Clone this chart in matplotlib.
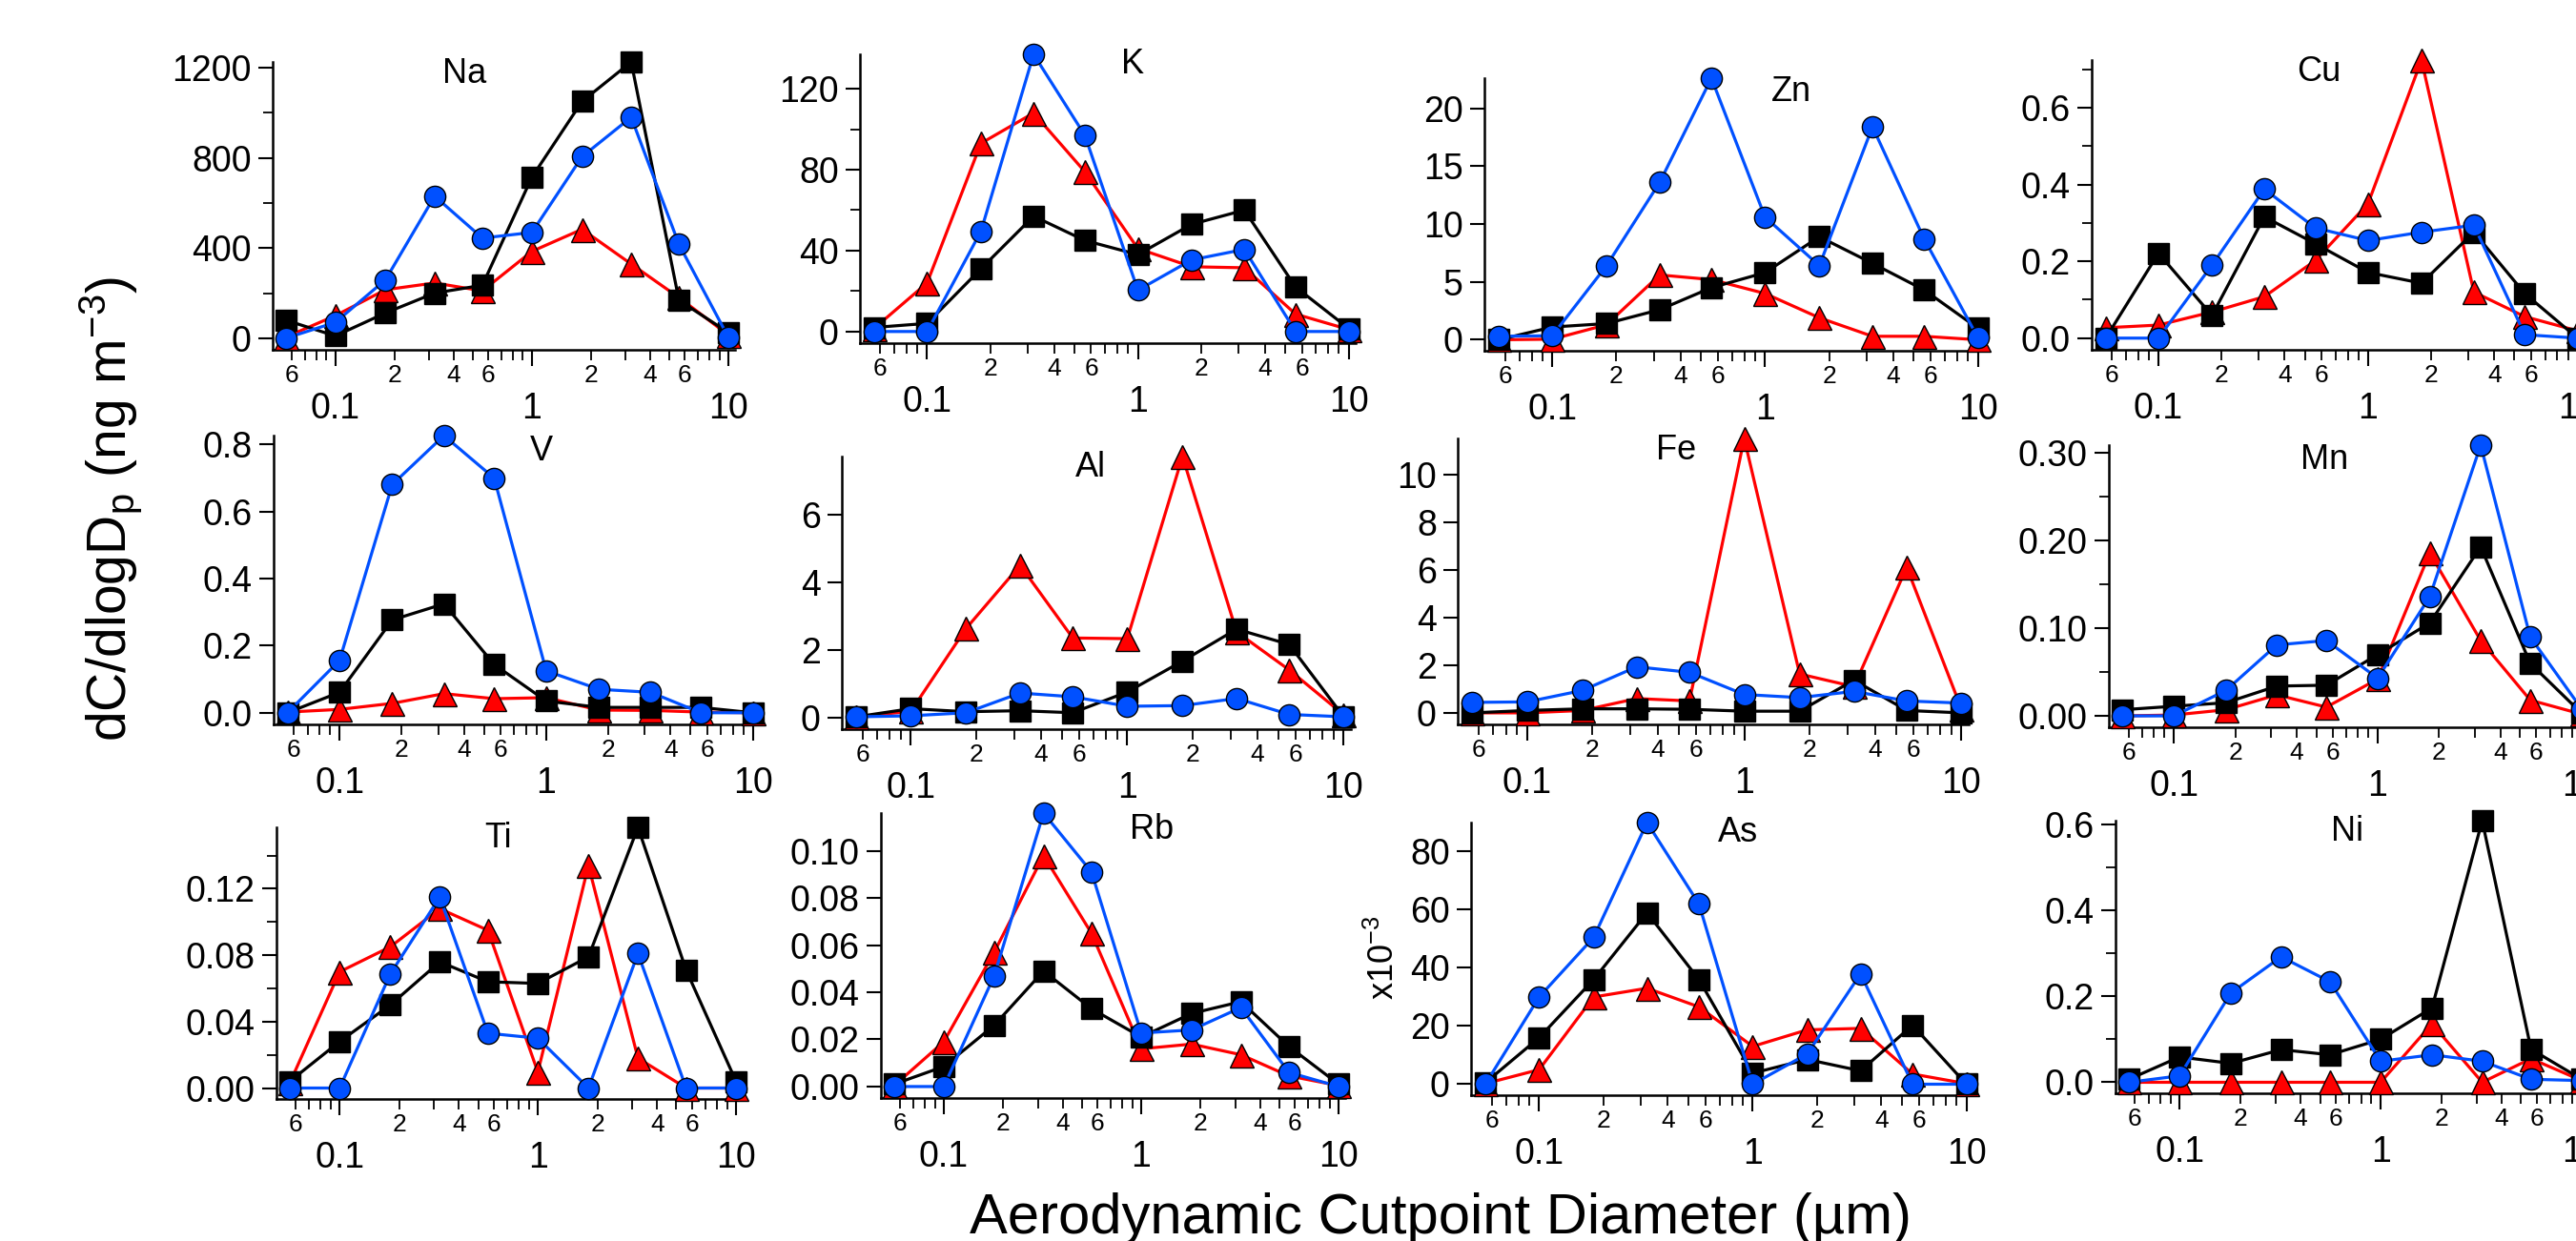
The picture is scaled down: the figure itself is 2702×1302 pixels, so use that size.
import numpy as np
import matplotlib.pyplot as plt

plt.rcParams['font.family'] = ['Liberation Sans', 'DejaVu Sans']
plt.rcParams['mathtext.default'] = 'regular'

W, H, DPI = 2702, 1302, 100

# cutpoint diameters (um)
diam = [0.056, 0.1, 0.18, 0.32, 0.56, 1.0, 1.8, 3.2, 5.6, 10]

# black squares / red triangles / blue circles, ng m-3
na_sq = [80, 10, 112, 200, 235, 714, 1050, 1225, 168, 25]
na_tri = [5, 100, 215, 245, 210, 385, 483, 329, 180, 14]
na_ci = [0, 70, 259, 630, 444, 469, 805, 980, 416, 3]

k_sq = [2, 4, 31, 57, 45, 38, 53, 60, 22, 1.5]
k_tri = [1.5, 24, 93, 108, 79, 41, 32, 31.5, 8.6, 1]
k_ci = [0, 0, 49.5, 137, 97, 20.4, 35.4, 40.6, 0, 0]

zn_sq = [0, 1.1, 1.4, 2.6, 4.5, 5.8, 8.9, 6.6, 4.3, 1.0]
zn_tri = [0, 0.05, 1.3, 5.6, 5.2, 4.0, 1.9, 0.3, 0.3, 0]
zn_ci = [0.3, 0.35, 6.4, 13.6, 22.6, 10.6, 6.4, 18.4, 8.7, 0.2]

cu_sq = [0, 0.221, 0.059, 0.316, 0.246, 0.171, 0.143, 0.276, 0.116, 0]
cu_tri = [0.027, 0.034, 0.068, 0.108, 0.202, 0.35, 0.724, 0.12, 0.056, 0.019]
cu_ci = [0, 0, 0.19, 0.388, 0.287, 0.254, 0.276, 0.294, 0.009, 0]

v_sq = [0, 0.061, 0.277, 0.325, 0.144, 0.035, 0.016, 0.016, 0.016, 0]
v_tri = [0.002, 0.01, 0.028, 0.057, 0.042, 0.045, 0.008, 0.007, 0.002, 0]
v_ci = [0, 0.156, 0.681, 0.827, 0.70, 0.125, 0.07, 0.061, 0, 0]

al_sq = [0.04, 0.28, 0.19, 0.22, 0.16, 0.77, 1.68, 2.62, 2.17, 0.04]
al_tri = [0.04, 0.2, 2.64, 4.5, 2.36, 2.34, 7.7, 2.54, 1.42, 0.1]
al_ci = [0.04, 0.07, 0.16, 0.74, 0.63, 0.35, 0.37, 0.58, 0.11, 0.04]

fe_sq = [0, 0.1, 0.17, 0.17, 0.15, 0.07, 0.07, 1.37, 0.1, 0]
fe_tri = [0, 0, 0.1, 0.6, 0.5, 11.5, 1.63, 1.1, 6.1, 0.17]
fe_ci = [0.44, 0.46, 0.94, 1.93, 1.7, 0.77, 0.64, 0.9, 0.5, 0.41]

mn_sq = [0.007, 0.011, 0.015, 0.034, 0.035, 0.07, 0.106, 0.193, 0.06, 0.003]
mn_tri = [0, 0.001, 0.007, 0.024, 0.01, 0.042, 0.186, 0.086, 0.018, 0.002]
mn_ci = [0, 0, 0.029, 0.081, 0.086, 0.043, 0.136, 0.309, 0.09, 0.008]

ti_sq = [0.004, 0.028, 0.05, 0.076, 0.064, 0.063, 0.079, 0.157, 0.071, 0.004]
ti_tri = [0.003, 0.07, 0.085, 0.108, 0.095, 0.0096, 0.134, 0.018, 0, 0]
ti_ci = [0, 0, 0.0686, 0.115, 0.033, 0.03, 0, 0.081, 0, 0]

rb_sq = [0.001, 0.0085, 0.026, 0.049, 0.033, 0.021, 0.031, 0.036, 0.017, 0.001]
rb_tri = [0.0004, 0.019, 0.057, 0.098, 0.065, 0.016, 0.018, 0.0135, 0.0045, 0.0004]
rb_ci = [0, 0, 0.047, 0.116, 0.091, 0.0227, 0.024, 0.0335, 0.006, 0]

# As in units of 1e-3 ng m-3
as_sq = [0.5, 16, 36, 59, 36, 3.8, 8.5, 4.6, 20.3, 0]
as_tri = [0.2, 5, 30, 33, 26.6, 13, 18.7, 19.2, 3.5, 0.2]
as_ci = [0, 30, 50.5, 90, 62, 0, 10.4, 38, 0, 0]

ni_sq = [0.007, 0.059, 0.044, 0.076, 0.064, 0.1, 0.173, 0.609, 0.077, 0.007]
ni_tri = [0, 0, 0, 0, 0, 0, 0.136, 0, 0.055, 0.004]
ni_ci = [0, 0.015, 0.208, 0.292, 0.234, 0.049, 0.064, 0.049, 0.007, 0.004]

elements = ["Na", "K", "Zn", "Cu", "V", "Al", "Fe", "Mn", "Ti", "Rb", "As", "Ni"]
series = [(na_sq, na_tri, na_ci), (k_sq, k_tri, k_ci), (zn_sq, zn_tri, zn_ci),
          (cu_sq, cu_tri, cu_ci), (v_sq, v_tri, v_ci), (al_sq, al_tri, al_ci),
          (fe_sq, fe_tri, fe_ci), (mn_sq, mn_tri, mn_ci), (ti_sq, ti_tri, ti_ci),
          (rb_sq, rb_tri, rb_ci), (as_sq, as_tri, as_ci), (ni_sq, ni_tri, ni_ci)]

# y ticks: major ticks, minor ticks, label format
yticks = [
    ([0, 400, 800, 1200], [200, 600, 1000], "{:.0f}"),
    ([0, 40, 80, 120], [20, 60, 100], "{:.0f}"),
    ([0, 5, 10, 15, 20], [], "{:.0f}"),
    ([0, 0.2, 0.4, 0.6], [0.1, 0.3, 0.5, 0.7], "{:.1f}"),
    ([0, 0.2, 0.4, 0.6, 0.8], [], "{:.1f}"),
    ([0, 2, 4, 6], [], "{:.0f}"),
    ([0, 2, 4, 6, 8, 10], [], "{:.0f}"),
    ([0, 0.1, 0.2, 0.3], [0.05, 0.15, 0.25], "{:.2f}"),
    ([0, 0.04, 0.08, 0.12], [0.02, 0.06, 0.10, 0.14], "{:.2f}"),
    ([0, 0.02, 0.04, 0.06, 0.08, 0.10], [], "{:.2f}"),
    ([0, 20, 40, 60, 80], [], "{:.0f}"),
    ([0, 0.2, 0.4, 0.6], [0.1, 0.3, 0.5], "{:.1f}"),
]

# panel boxes in pixels: left, top, width, bottom
boxes = [
    (286, 65, 485, 367), (902, 57, 520, 360), (1557, 82, 525, 368), (2194, 63, 517, 367),
    (287, 457, 510, 760), (883, 479, 534, 765), (1529, 460, 536, 760), (2212, 467, 503, 763),
    (290, 868, 489, 1153), (924, 853, 487, 1152), (1543, 863, 527, 1149), (2219, 861, 496, 1147),
]
# element label position inside each panel (axes fraction)
title_pos = [(0.415, 0.957), (0.55, 0.964), (0.613, 0.948), (0.46, 0.96),
             (0.55, 0.947), (0.489, 0.96), (0.427, 0.957), (0.45, 0.946),
             (0.475, 0.958), (0.583, 0.943), (0.531, 0.965), (0.49, 0.96)]

minor_x = [0.06, 0.07, 0.08, 0.09, 0.2, 0.3, 0.4, 0.5, 0.6, 0.7, 0.8, 0.9,
           2, 3, 4, 5, 6, 7, 8, 9]
minor_lab = {0.06: "6", 0.2: "2", 0.4: "4", 0.6: "6", 2: "2", 4: "4", 6: "6"}

fig = plt.figure(figsize=(W / DPI, H / DPI), dpi=DPI)

for i, name in enumerate(elements):
    l, t, w, b = boxes[i]
    ax = fig.add_axes([l / W, 1 - b / H, w / W, (b - t) / H])
    sq, tri, ci = series[i]
    top = max(max(sq), max(tri), max(ci))

    ax.plot(diam, tri, '-', color='#ff0000', lw=2.3, marker='^', ms=18,
            mfc='#ff0000', mec='black', mew=1.0, clip_on=False, zorder=3)
    ax.plot(diam, sq, '-', color='black', lw=2.3, marker='s', ms=16,
            mfc='black', mec='black', mew=1.0, clip_on=False, zorder=4)
    ax.plot(diam, ci, '-', color='#0050ff', lw=2.3, marker='o', ms=16,
            mfc='#0050ff', mec='black', mew=1.0, clip_on=False, zorder=5)

    ax.set_xscale('log')
    ax.set_xlim(0.048, 10.8)
    ax.set_ylim(-0.042 * top, top)

    for s in ['top', 'right']:
        ax.spines[s].set_visible(False)
    for s in ['left', 'bottom']:
        ax.spines[s].set_linewidth(1.8)

    ax.set_xticks([0.1, 1, 10])
    ax.set_xticklabels(['0.1', '1', '10'])
    ax.set_xticks(minor_x, minor=True)
    ax.set_xticklabels([minor_lab.get(v, '') for v in minor_x], minor=True)
    ax.tick_params(axis='x', which='major', direction='out', length=12, width=1.5,
                   labelsize=27, pad=20)
    ax.tick_params(axis='x', which='minor', direction='out', length=8, width=1.3,
                   labelsize=19, pad=3)

    maj, mnr, fmt = yticks[i]
    ax.set_yticks(maj)
    ax.set_yticklabels([fmt.format(v) for v in maj])
    ax.set_yticks(mnr, minor=True)
    ax.tick_params(axis='y', which='major', direction='out', length=11, width=1.5,
                   labelsize=27, pad=5)
    ax.tick_params(axis='y', which='minor', direction='out', length=7, width=1.3)

    tx, ty = title_pos[i]
    ax.text(tx, ty, name, transform=ax.transAxes, fontsize=26,
            ha='center', va='center')

fig.text(1452 / W, 1 - 1005 / H, 'x10$^{-3}$', rotation=90, fontsize=26,
         ha='center', va='center')
fig.text(117 / W, 1 - 534 / H, 'dC/dlogD$_{p}$ (ng m$^{-3}$)', rotation=90,
         fontsize=41, ha='center', va='center')
fig.text(1511 / W, 1 - 1279 / H, 'Aerodynamic Cutpoint Diameter (µm)',
         fontsize=43, ha='center', va='center')

fig.savefig('out.png', dpi=DPI)
